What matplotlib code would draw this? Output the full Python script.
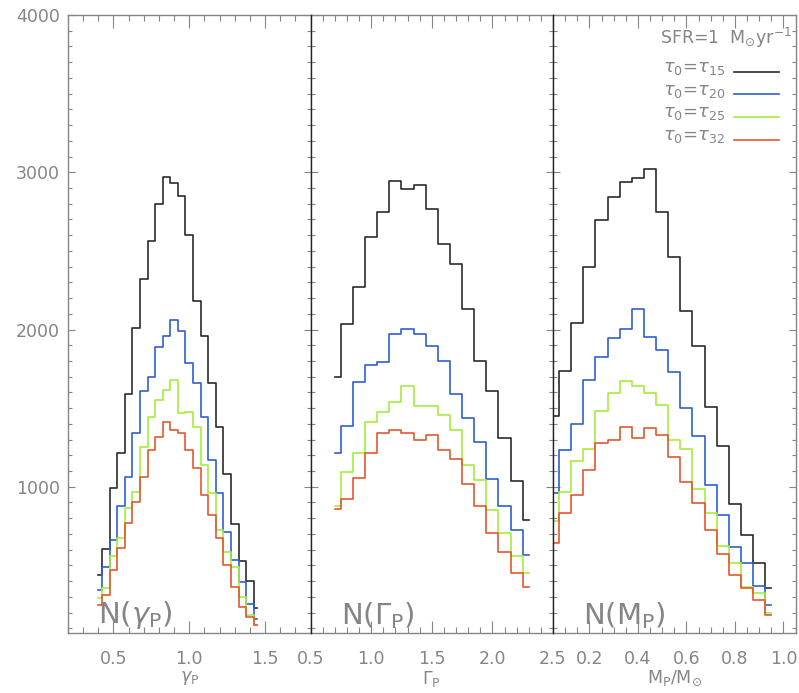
import matplotlib

matplotlib.use("Agg", force=True)
import matplotlib.pyplot as plt
from matplotlib.ticker import MultipleLocator

# --- data ----------------------------------------------------------------
gamma_x = [0.40, 0.45, 0.50, 0.55, 0.60, 0.65, 0.70, 0.75, 0.80, 0.85, 0.90,
           0.95, 1.00, 1.05, 1.10, 1.15, 1.20, 1.25, 1.30, 1.35, 1.40, 1.45]
gamma_t15 = [440, 604, 994, 1217, 1588, 2010, 2320, 2560, 2800, 2970, 2930,
             2850, 2600, 2180, 1960, 1660, 1378, 1081, 761, 530, 401, 227]
gamma_t20 = [345, 488, 661, 878, 1064, 1340, 1611, 1700, 1890, 1960, 2060,
             1990, 1785, 1658, 1446, 1170, 958, 714, 534, 396, 252, 157]
gamma_t25 = [290, 354, 560, 672, 863, 969, 1255, 1446, 1552, 1616, 1679,
             1467, 1477, 1382, 1138, 958, 725, 587, 492, 301, 184, 121]
gamma_t32 = [250, 312, 471, 609, 768, 905, 1064, 1234, 1318, 1414, 1361,
             1340, 1234, 1117, 948, 820, 672, 502, 364, 237, 174, 121]

Gamma_x = [0.7, 0.8, 0.9, 1.0, 1.1, 1.2, 1.3, 1.4, 1.5, 1.6, 1.7, 1.8, 1.9,
           2.0, 2.1, 2.2, 2.3]
Gamma_t15 = [1700, 2035, 2272, 2586, 2745, 2944, 2894, 2917, 2764, 2542, 2417,
             2128, 1800, 1609, 1308, 1039, 789]
Gamma_t20 = [1213, 1386, 1668, 1774, 1795, 1969, 2003, 1969, 1895, 1800, 1588,
             1439, 1283, 1049, 880, 725, 566]
Gamma_t25 = [878, 1096, 1213, 1410, 1478, 1537, 1641, 1516, 1516, 1456, 1361,
             1138, 1043, 852, 704, 560, 450]
Gamma_t32 = [859, 920, 1054, 1217, 1340, 1361, 1344, 1297, 1329, 1234, 1175,
             1016, 878, 708, 587, 450, 364]

mass_x = [0.05, 0.10, 0.15, 0.20, 0.25, 0.30, 0.35, 0.40, 0.45, 0.50, 0.55,
          0.60, 0.65, 0.70, 0.75, 0.80, 0.85, 0.90, 0.95]
mass_t15 = [1452, 1736, 2039, 2400, 2696, 2845, 2936, 2961, 3021, 2745, 2463,
            2118, 1895, 1505, 1259, 888, 693, 513, 358]
mass_t20 = [958, 1234, 1399, 1679, 1827, 1944, 2001, 2130, 1954, 1870, 1732,
            1499, 1323, 1011, 820, 615, 513, 371, 248]
mass_t25 = [782, 965, 1166, 1240, 1484, 1598, 1673, 1641, 1598, 1520, 1297,
            1238, 984, 831, 623, 513, 364, 322, 195]
mass_t32 = [640, 831, 948, 1107, 1276, 1297, 1382, 1308, 1376, 1329, 1187,
            1028, 895, 725, 570, 439, 354, 280, 184]

series_labels = [r"$\tau_0$=$\tau_{15}$", r"$\tau_0$=$\tau_{20}$",
                 r"$\tau_0$=$\tau_{25}$", r"$\tau_0$=$\tau_{32}$"]
series_colors = ["#2b2b2b", "#2f5fd0", "#a6ec3c", "#e2572f"]

GREY = "#858585"

panels = [
    dict(x=gamma_x, ys=[gamma_t15, gamma_t20, gamma_t25, gamma_t32],
         xlim=(0.2, 1.8), minor=0.1,
         ticks=[0.5, 1.0, 1.5], tag=r"N($\gamma_{\rm P}$)",
         xlabel=r"$\gamma_{\rm P}$"),
    dict(x=Gamma_x, ys=[Gamma_t15, Gamma_t20, Gamma_t25, Gamma_t32],
         xlim=(0.5, 2.5), minor=0.1,
         ticks=[0.5, 1.0, 1.5, 2.0, 2.5], tag=r"N($\Gamma_{\rm P}$)",
         xlabel=r"$\Gamma_{\rm P}$"),
    dict(x=mass_x, ys=[mass_t15, mass_t20, mass_t25, mass_t32],
         xlim=(0.05, 1.05), minor=0.05,
         ticks=[0.2, 0.4, 0.6, 0.8, 1.0], tag=r"N(M$_{\rm P}$)",
         xlabel=r"M$_{\rm P}$/M$_{\odot}$"),
]

plt.rcParams["font.family"] = ["DejaVu Sans"]
plt.rcParams["mathtext.fontset"] = "dejavusans"

fig = plt.figure(figsize=(7.99, 6.93), dpi=100)
left, bottom, width, height = 68 / 799, 60 / 693, 242.5 / 799, 618 / 693

for i, p in enumerate(panels):
    ax = fig.add_axes([left + i * width, bottom, width, height])
    for ys, color, label in zip(p["ys"], series_colors, series_labels):
        ax.step(p["x"], ys, where="mid", color=color, linewidth=1.2, label=label)

    ax.set_xlim(*p["xlim"])
    ax.set_ylim(70, 4000)
    ax.set_xticks(p["ticks"])
    ax.set_xticklabels([f"{t:.1f}" for t in p["ticks"]])
    ax.xaxis.set_minor_locator(MultipleLocator(p["minor"]))
    ax.yaxis.set_major_locator(MultipleLocator(1000))
    ax.yaxis.set_minor_locator(MultipleLocator(100))
    ax.tick_params(which="both", direction="in", top=True, right=True,
                   color=GREY, labelcolor=GREY, labelsize=12.5, width=0.8)
    ax.tick_params(axis="x", which="major", length=9, pad=12)
    ax.tick_params(axis="x", which="minor", length=4)
    ax.tick_params(axis="y", which="major", length=5, pad=6)
    ax.tick_params(axis="y", which="minor", length=3)
    if i > 0:
        ax.tick_params(axis="y", labelleft=False)

    for side in ("top", "bottom", "left", "right"):
        ax.spines[side].set_color(GREY)
        ax.spines[side].set_linewidth(1.0)
    if i > 0:
        ax.spines["left"].set_color("#222222")
        ax.spines["left"].set_zorder(5)

    ax.text(0.125, 0.004, p["tag"], transform=ax.transAxes, fontsize=21,
            color=GREY, ha="left", va="bottom")
    ax.set_xlabel(p["xlabel"], color=GREY, fontsize=12.5, labelpad=1)

    if i == 2:
        ax.text(0.985, 0.963, r"SFR=1  M$_{\odot}$yr$^{-1}$",
                transform=ax.transAxes, fontsize=12.5, color=GREY,
                ha="right", va="center")
        for k, (color, label) in enumerate(zip(series_colors, series_labels)):
            yk = 0.914 - k * 0.0365
            ax.text(0.71, yk, label, transform=ax.transAxes, fontsize=13,
                    color=GREY, ha="right", va="center")
            ax.plot([0.745, 0.93], [yk - 0.006, yk - 0.006],
                    transform=ax.transAxes, color=color, linewidth=1.2)

fig.savefig("out.png", dpi=100)
